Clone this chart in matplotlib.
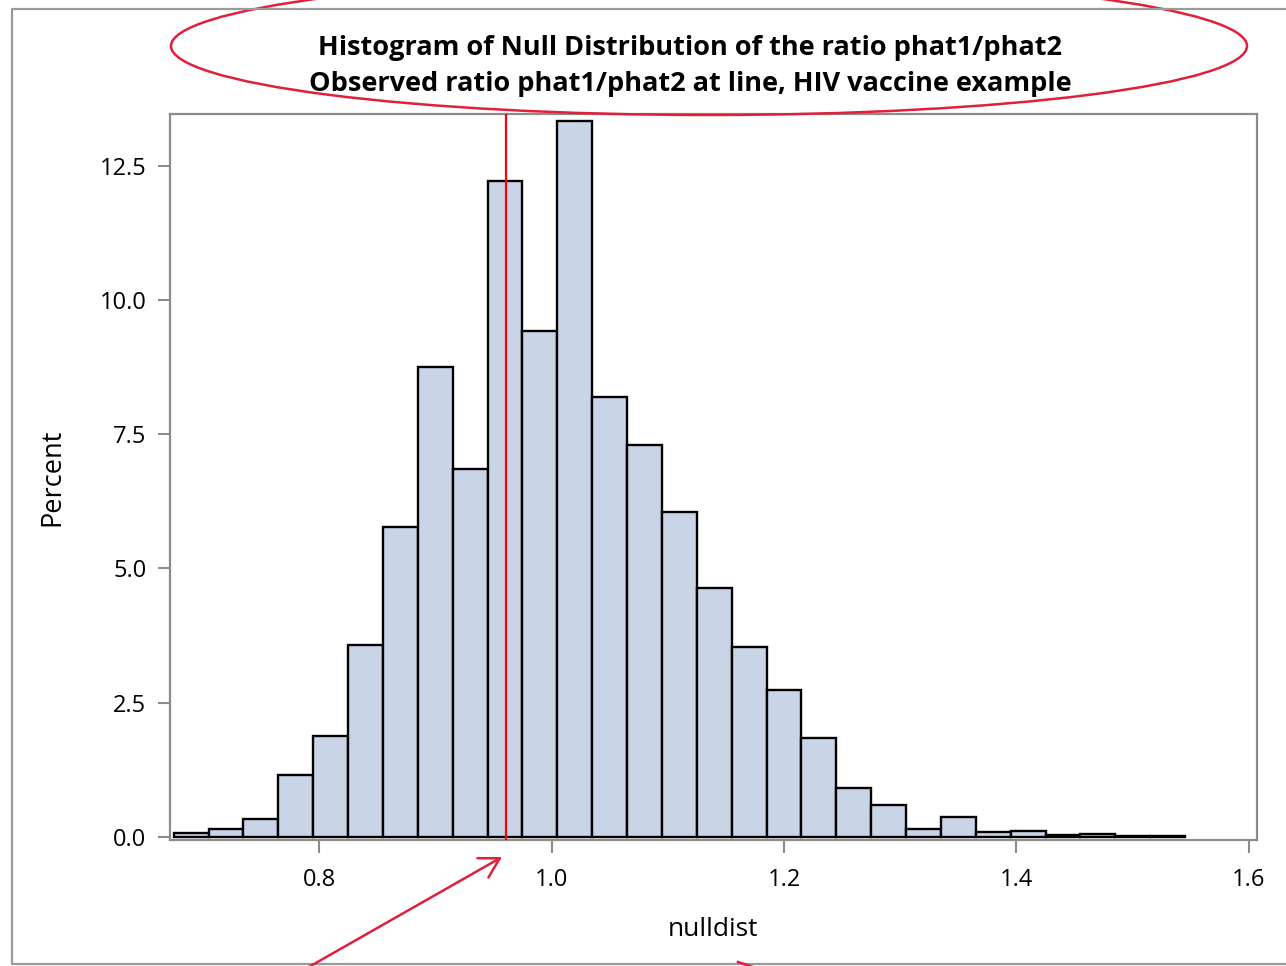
import matplotlib
matplotlib.use("Agg")
import matplotlib.pyplot as plt
from matplotlib.patches import Ellipse
from matplotlib.ticker import FormatStrFormatter

# histogram bins (midpoints) and percent per bin
bin_mid = [0.69, 0.72, 0.75, 0.78, 0.81, 0.84, 0.87, 0.90, 0.93, 0.96,
           0.99, 1.02, 1.05, 1.08, 1.11, 1.14, 1.17, 1.20, 1.23, 1.26,
           1.29, 1.32, 1.35, 1.38, 1.41, 1.44, 1.47, 1.50, 1.53]
percent = [0.07, 0.15, 0.33, 1.15, 1.88, 3.58, 5.77, 8.75, 6.85, 12.22,
           9.42, 13.33, 8.19, 7.30, 6.05, 4.64, 3.54, 2.74, 1.84, 0.91,
           0.60, 0.15, 0.38, 0.09, 0.11, 0.04, 0.06, 0.02, 0.02]
bin_w = 0.03
observed = 0.961

x_ticks = [0.8, 1.0, 1.2, 1.4, 1.6]
y_ticks = [0.0, 2.5, 5.0, 7.5, 10.0, 12.5]

plt.rcParams["font.family"] = ["Open Sans", "DejaVu Sans"]

W, H = 1286, 966
fig = plt.figure(figsize=(W / 100, H / 100), dpi=100, facecolor="white")

ax = fig.add_axes([170 / W, 1 - 840 / H, (1257 - 170) / W, (840 - 114) / H])
ax.bar(bin_mid, percent, width=bin_w, color="#C9D5E6", edgecolor="black",
       linewidth=1.7, zorder=2)
ax.axvline(observed, color="#FF0000", lw=1.6, zorder=3)

ax.set_xlim(0.6718, 1.6069)
ax.set_ylim(-0.056, 13.46)
ax.set_xticks(x_ticks)
ax.set_yticks(y_ticks)
ax.xaxis.set_major_formatter(FormatStrFormatter("%.1f"))
ax.yaxis.set_major_formatter(FormatStrFormatter("%.1f"))
ax.tick_params(length=9, width=1.5, color="#8C8C8C", labelsize=17, pad=8)
ax.tick_params(axis="x", pad=11)
for s in ax.spines.values():
    s.set_color("#8C8C8C")
    s.set_linewidth(1.6)
ax.set_xlabel("nulldist", fontsize=19, labelpad=18.5)
ax.set_ylabel("Percent", fontsize=19.5, labelpad=23.5)

fig.text(690 / W, 1 - 48 / H, "Histogram of Null Distribution of the ratio phat1/phat2",
         ha="center", va="center", fontsize=19.5, fontweight="bold")
fig.text(690 / W, 1 - 84 / H, "Observed ratio phat1/phat2 at line, HIV vaccine example",
         ha="center", va="center", fontsize=19.5, fontweight="bold")

# overlay in pixel coords for the frame and the red annotations
ov = fig.add_axes([0, 0, 1, 1], facecolor="none")
ov.set_xlim(0, W)
ov.set_ylim(H, 0)
ov.axis("off")
ov.plot([1286, 12, 12, 1286], [9, 9, 964, 964], color="#9A9A9A", lw=1.6)
ov.add_patch(Ellipse((709, 46), 1076, 138, fill=False, ec="#E0203A", lw=1.8))
ov.annotate("", xy=(502, 857), xytext=(307, 968),
            arrowprops=dict(arrowstyle="->,head_length=1.4,head_width=0.8",
                            color="#E0203A", lw=1.8, shrinkA=0, shrinkB=0))
ov.plot([738, 768], [962, 972], color="#E0203A", lw=1.8)

fig.savefig("out.png", dpi=100, facecolor="white")
